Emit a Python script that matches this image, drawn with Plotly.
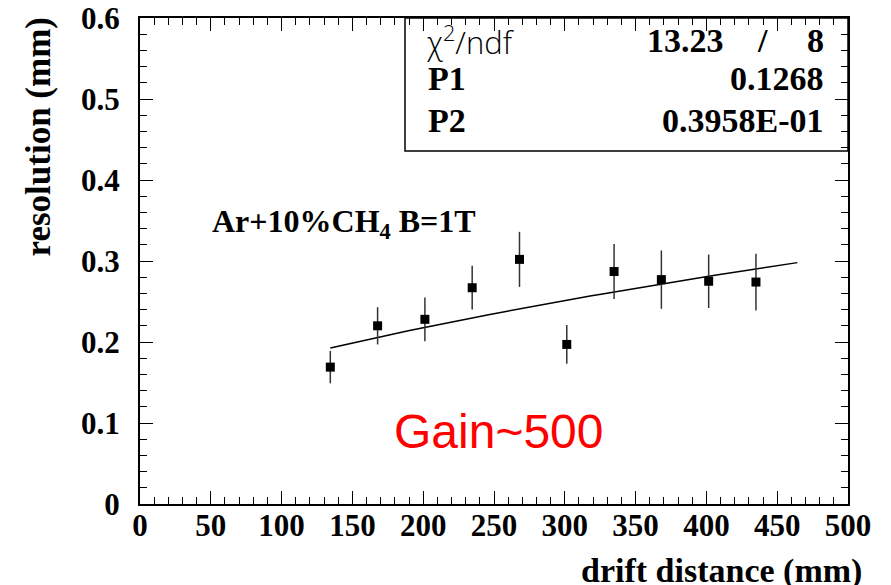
import numpy as np
import plotly.graph_objects as go

# ---- data ----
drift_mm = [134.4, 167.8, 201.2, 234.6, 268.0, 301.4, 334.8, 368.2, 401.6, 435.0]
resolution_mm = [0.169, 0.220, 0.228, 0.267, 0.302, 0.197, 0.287, 0.277, 0.275, 0.274]
resolution_err = [0.020, 0.023, 0.027, 0.027, 0.034, 0.024, 0.034, 0.036, 0.033, 0.035]

chi2, ndf = 13.23, 8
P1, P2 = 0.1268, 0.3958e-01
fit_range = (134.4, 464.2)

x_ticks = [0, 50, 100, 150, 200, 250, 300, 350, 400, 450, 500]
y_ticks = [0, 0.1, 0.2, 0.3, 0.4, 0.5, 0.6]

# fit function drawn from its displayed parameters: sigma = sqrt(P1^2 + P2^2 * x[cm])
xf = np.linspace(fit_range[0], fit_range[1], 60)
yf = np.sqrt(P1**2 + P2**2 * xf / 10.0)

OFF = 8  # page body margin
W, H = 891 - OFF, 585 - OFF
# plot area in screen pixels: x 140..848, y 18..504
L, T = 140 - OFF, 18 - OFF
R, B = W - (848 - OFF), H - (504 - OFF)
PW, PH = W - L - R, H - T - B


def px(sx):
    return (sx - OFF - L) / PW


def py(sy):
    return (H - B - (sy - OFF)) / PH


SERIF = "Liberation Serif"
FS = 31

fig = go.Figure()
fig.add_trace(go.Scatter(
    x=xf, y=yf, mode="lines",
    line=dict(color="black", width=1.5),
    hoverinfo="skip", showlegend=False))
fig.add_trace(go.Scatter(
    x=drift_mm, y=resolution_mm, mode="markers",
    marker=dict(symbol="square", size=9, color="black"),
    error_y=dict(type="data", array=resolution_err, visible=True,
                 color="#333333", thickness=1.5, width=0),
    showlegend=False))

axis_common = dict(
    showgrid=False, zeroline=False, automargin=False,
    showline=True, linecolor="black", linewidth=2,
    mirror="allticks", ticks="inside", ticklen=13, tickwidth=1.2,
    tickcolor="black", ticklabeloverflow="allow",
    tickfont=dict(family=SERIF, size=FS, color="black", weight="bold"),
)

fig.update_xaxes(
    range=[0, 500], tickmode="array", tickvals=x_ticks,
    ticktext=[str(v) for v in x_ticks],
    minor=dict(dtick=10, ticks="inside", ticklen=7, tickwidth=1.2,
               tickcolor="black", showgrid=False),
    ticklabelstandoff=-7,
    **axis_common)
fig.update_yaxes(
    range=[0, 0.6], tickmode="array", tickvals=y_ticks,
    ticktext=["0" if v == 0 else f"{v:.1f}" for v in y_ticks],
    minor=dict(dtick=0.02, ticks="inside", ticklen=7, tickwidth=1.2,
               tickcolor="black", showgrid=False),
    ticklabelstandoff=12,
    **axis_common)

ann = []
bold = dict(family=SERIF, size=34, color="black", weight="bold")
# axis titles
ann.append(dict(text="drift distance (mm)", xref="paper", yref="paper",
                x=px(864), y=py(571), xanchor="right", yanchor="middle",
                showarrow=False, font=bold))
ann.append(dict(text="resolution (mm)", xref="paper", yref="paper",
                x=px(38), y=py(16), xanchor="center", yanchor="top",
                textangle=-90, showarrow=False,
                font=dict(family=SERIF, size=35, color="black", weight="bold")))
# stats box text
ann.append(dict(text="χ<sup>2</sup>/ndf", xref="paper", yref="paper",
                x=px(425), y=py(41), xanchor="left", yanchor="middle",
                showarrow=False,
                font=dict(family="Open Sans", size=31, color="black", weight=300)))
ann.append(dict(text=f"{chi2:.2f}", xref="paper", yref="paper",
                x=px(726), y=py(41), xanchor="right", yanchor="middle",
                showarrow=False, font=bold))
ann.append(dict(text="/", xref="paper", yref="paper",
                x=px(762), y=py(41), xanchor="center", yanchor="middle",
                showarrow=False, font=bold))
ann.append(dict(text=f"{ndf}", xref="paper", yref="paper",
                x=px(826), y=py(41), xanchor="right", yanchor="middle",
                showarrow=False, font=bold))
ann.append(dict(text="P1", xref="paper", yref="paper",
                x=px(426), y=py(78), xanchor="left", yanchor="middle",
                showarrow=False, font=bold))
ann.append(dict(text=f"{P1:.4f}", xref="paper", yref="paper",
                x=px(826), y=py(78), xanchor="right", yanchor="middle",
                showarrow=False, font=bold))
ann.append(dict(text="P2", xref="paper", yref="paper",
                x=px(426), y=py(120), xanchor="left", yanchor="middle",
                showarrow=False, font=bold))
ann.append(dict(text="0.3958E-01", xref="paper", yref="paper",
                x=px(826), y=py(120), xanchor="right", yanchor="middle",
                showarrow=False, font=bold))
# labels in the plot
ann.append(dict(text="Ar+10%CH<sub>4</sub> B=1T", xref="paper", yref="paper",
                x=px(210), y=py(223), xanchor="left", yanchor="middle",
                showarrow=False, font=dict(family=SERIF, size=32, color="black", weight="bold")))
ann.append(dict(text="Gain~500", xref="paper", yref="paper",
                x=px(392), y=py(431), xanchor="left", yanchor="middle",
                showarrow=False, font=dict(family="Liberation Sans", size=48, color="#ff0000")))

fig.update_layout(
    width=W, height=H,
    margin=dict(l=L, r=R, t=T, b=B, autoexpand=False),
    plot_bgcolor="white", paper_bgcolor="white",
    annotations=ann,
    shapes=[dict(type="rect", xref="paper", yref="paper",
                 x0=px(405), x1=1.0, y0=py(151), y1=1.0,
                 line=dict(color="black", width=1.5), fillcolor="rgba(0,0,0,0)")],
)

fig.write_html("out.html")
